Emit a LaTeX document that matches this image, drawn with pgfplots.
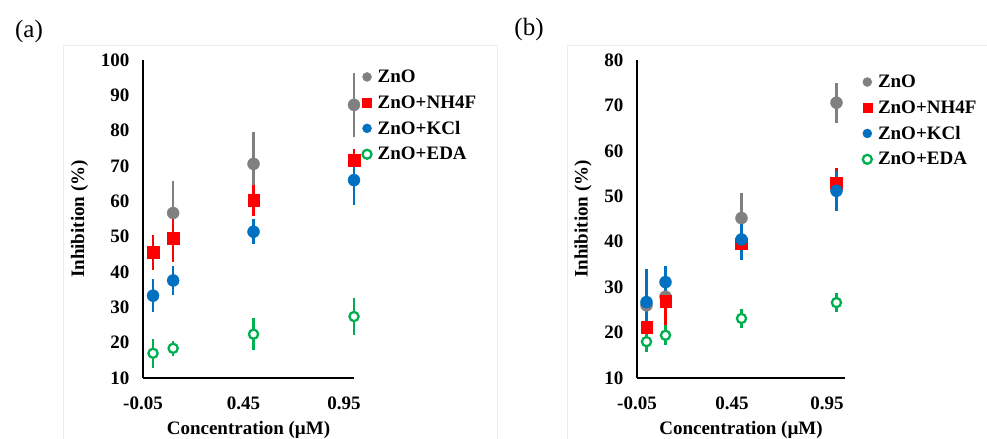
\documentclass[border=0pt]{standalone}
\usepackage{fontspec}
\setmainfont{Liberation Serif}
\usepackage{pgfplots}
\usepackage{pgfplotstable}
\pgfplotsset{compat=1.18}

\definecolor{cgray}{RGB}{128,128,128}
\definecolor{cred}{RGB}{255,0,0}
\definecolor{cblue}{RGB}{0,112,192}
\definecolor{cgreen}{RGB}{0,176,80}

% panel (a)
\pgfplotstableread{
x    zno  znoe nh4f nh4fe kcl  kcle eda  edae
0    nan  0    45.6 5.0   33.3 4.6  17.0 4.1
0.1  56.7 9.0  49.5 6.8   37.6 4.0  18.4 2.2
0.5  70.6 9.0  60.3 4.4   51.4 3.6  22.4 4.6
1.0  87.3 9.0  71.7 3.1   66.0 6.9  27.4 5.2
}\tabA
% panel (b)
\pgfplotstableread{
x    zno  znoe nh4f nh4fe kcl  kcle eda  edae
0    26.0 1.0  21.2 1.5   26.7 7.4  18.0 2.3
0.1  27.9 2.0  26.9 7.5   31.1 3.6  19.4 2.2
0.5  45.2 5.6  39.6 3.6   40.5 4.5  23.1 2.0
1.0  70.6 4.4  52.9 3.4   51.2 4.4  26.6 2.0
}\tabB

\newcommand{\fs}{\fontsize{19bp}{22bp}\selectfont\bfseries}

\pgfplotsset{
  panel/.style={
    scale only axis, height=318bp,
    axis lines*=left,
    axis line style={line width=2.2bp, black},
    ymin=10, ytick distance=10,
    xmin=-0.05, xtick={-0.05,0.45,0.95}, xticklabels={-0.05,0.45,0.95},
    major tick length=0,
    tick label style={font=\fs},
    /pgf/number format/assume math mode=true,
    xticklabel style={yshift=-15bp},
    yticklabel style={xshift=-10bp},
    label style={font=\fs},
    xlabel={Concentration (µM)},
    ylabel={Inhibition (\%)},
    xlabel style={yshift=-5bp},
    ylabel style={at={(ticklabel cs:0.5,6bp)}},
    legend style={draw=none, fill=white, font=\fs, anchor=north west,
      legend cell align=left, row sep=7.5bp, inner sep=2bp},
    clip=false,
  },
  eb/.style={only marks, mark=none, forget plot,
    error bars/.cd, y dir=both, y explicit, error mark=none,
    error bar style={line width=2.2bp, #1}},
  mk/.style={only marks,
    legend image code/.code={\path (8.5bp,0bp);\draw[##1, mark size=4.5bp] plot coordinates {(0bp,0bp)};}},
  sgray/.style={mk, mark=*, mark size=6bp, color=cgray},
  sred/.style={mk, mark=square*, mark size=5.8bp, color=cred, mark options={rounded corners=1.5bp}},
  sblue/.style={mk, mark=*, mark size=6bp, color=cblue},
  sgreen/.style={mk, mark=*, mark size=4.6bp, color=cgreen, mark options={fill=white, line width=2.3bp}},
}

\begin{document}
\begin{tikzpicture}[x=1bp, y=1bp]
\path[use as bounding box] (0,0) rectangle (987,439);
\draw[gray!15, line width=0.8bp] (63,-2) -- (63,394) -- (497,394) -- (497,-2);
\draw[gray!15, line width=0.8bp] (567,-2) -- (567,394) -- (990,394);
\node[font=\fontsize{25bp}{28bp}\selectfont] at (29,408) {(a)};
\node[font=\fontsize{25bp}{28bp}\selectfont] at (529,410) {(b)};

\begin{axis}[panel, at={(143bp,61bp)}, anchor=south west,
  width=211bp, xmax=1.0, ymax=100,
  legend style={at={(axis description cs:1.03,0.982)}}]
\addplot[eb=cgray] table[x=x, y=zno, y error=znoe] {\tabA};
\addplot[eb=cred] table[x=x, y=nh4f, y error=nh4fe] {\tabA};
\addplot[eb=cblue] table[x=x, y=kcl, y error=kcle] {\tabA};
\addplot[eb=cgreen] table[x=x, y=eda, y error=edae] {\tabA};
\addplot[sgray] table[x=x, y=zno] {\tabA};
\addplot[sred] table[x=x, y=nh4f] {\tabA};
\addplot[sblue] table[x=x, y=kcl] {\tabA};
\addplot[sgreen] table[x=x, y=eda] {\tabA};
\legend{ZnO, ZnO+NH4F, ZnO+KCl, ZnO+EDA}
\end{axis}

\begin{axis}[panel, at={(637bp,61bp)}, anchor=south west,
  width=208bp, xmax=1.045, ymax=80,
  legend style={at={(axis description cs:1.075,0.966)}}]
\addplot[eb=cgray] table[x=x, y=zno, y error=znoe] {\tabB};
\addplot[eb=cred] table[x=x, y=nh4f, y error=nh4fe] {\tabB};
\addplot[eb=cblue] table[x=x, y=kcl, y error=kcle] {\tabB};
\addplot[eb=cgreen] table[x=x, y=eda, y error=edae] {\tabB};
\addplot[sgray] table[x=x, y=zno] {\tabB};
\addplot[sred] table[x=x, y=nh4f] {\tabB};
\addplot[sblue] table[x=x, y=kcl] {\tabB};
\addplot[sgreen] table[x=x, y=eda] {\tabB};
\legend{ZnO, ZnO+NH4F, ZnO+KCl, ZnO+EDA}
\end{axis}
\end{tikzpicture}
\end{document}
